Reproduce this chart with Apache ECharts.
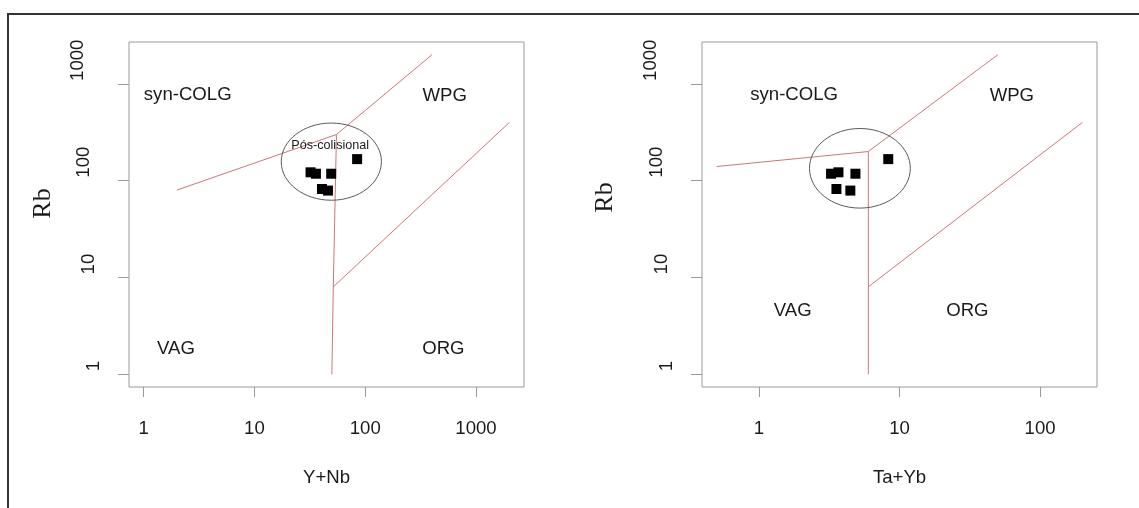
<!DOCTYPE html>
<html><head><meta charset="utf-8">
<script src="https://cdn.jsdelivr.net/npm/echarts@6/dist/echarts.min.js"></script>
<style>html,body{margin:0;padding:0;background:#fff}#c{width:1139px;height:508px}</style>
</head><body><div id="c"></div>
<script>
// ---- data ----
const yTickValues = [1, 10, 100, 1000];
const xTickValuesLeft = [1, 10, 100, 1000];
const xTickValuesRight = [1, 10, 100];
const sampleRb = [122, 118, 118, 167, 82, 79];
const sampleYNb = [32.1, 35.9, 49.3, 84.5, 40.7, 46.1];
const sampleTaYb = [3.68, 3.26, 4.86, 8.32, 3.56, 4.47];
const leftSynColgBoundary = [[2, 80], [55, 300], [400, 2000]];
const leftVagBoundary = [[55, 300], [51.5, 8], [50, 1]];
const leftOrgBoundary = [[51.5, 8], [2000, 400]];
const rightSynColgBoundary = [[0.5, 140], [6, 200], [50, 2000]];
const rightVagBoundary = [[6, 200], [6, 8], [6, 1]];
const rightOrgBoundary = [[6, 8], [200, 400]];
const leftFieldNames = ['syn-COLG', 'WPG', 'VAG', 'ORG', 'Pós-colisional'];
const leftFieldX = [2.5, 521, 1.96, 507, 48.3];
const leftFieldY = [769, 751, 1.82, 1.82, 233];
const rightFieldNames = ['syn-COLG', 'WPG', 'VAG', 'ORG'];
const rightFieldX = [1.78, 63, 1.74, 30.4];
const rightFieldY = [778, 748, 4.53, 4.53];
// ellipse bounds: [xMin, xMax, yMin, yMax]
const leftEllipse = [17.46, 140, 62.8, 394];
const rightEllipse = [2.29, 11.94, 52.1, 346];

// ---- styles ----
const SANS = '"Liberation Sans", Arial, sans-serif';
const TXT = '#1a1a1a';
const AXC = '#9a9a9a';
const RED = '#cc7777';

const yLabelShift = {1: 0, 2: 5, 3: 10, 4: 15.5};
const yRich = {};
Object.keys(yLabelShift).forEach(k => {
  yRich['d' + k] = {fontFamily: SANS, fontSize: 18.6, color: TXT, padding: [0, 0, 2 * yLabelShift[k], 3]};
});

function xAxisCfg(idx, min, max, ticks, name) {
  return {
    type: 'log', logBase: 10, gridIndex: idx, min: min, max: max,
    name: name, nameLocation: 'middle', nameGap: 81,
    nameTextStyle: {fontFamily: SANS, fontSize: 18.6, color: TXT},
    axisLine: {show: false},
    axisTick: {show: true, length: 10, lineStyle: {color: AXC, width: 1}, customValues: ticks},
    axisLabel: {show: true, margin: 32, fontFamily: SANS, fontSize: 18.6, color: TXT, customValues: ticks,
      formatter: v => String(Math.round(v))},
    splitLine: {show: false}, minorTick: {show: false}
  };
}
function yAxisCfg(idx, gap, lift) {
  return {
    type: 'log', logBase: 10, gridIndex: idx, min: 0.738, max: 2710,
    name: 'Rb', nameLocation: 'middle', nameGap: gap,
    nameTextStyle: {fontFamily: '"Liberation Serif", "Times New Roman", serif', fontSize: 26, color: TXT, padding: [0, 0, 0, lift]},
    axisLine: {show: false},
    axisTick: {show: true, length: 11, lineStyle: {color: AXC, width: 1}, customValues: yTickValues},
    axisLabel: {show: true, margin: 35.5, rotate: 90, align: 'left', verticalAlign: 'middle',
      customValues: yTickValues,
      formatter: v => { const s = String(Math.round(v)); return '{d' + s.length + '|' + s + '}'; },
      rich: yRich},
    splitLine: {show: false}, minorTick: {show: false}
  };
}
function lineSeries(idx, data) {
  return {type: 'line', xAxisIndex: idx, yAxisIndex: idx, data: data, symbol: 'none', silent: true,
    lineStyle: {color: RED, width: 1}, z: 3};
}
function ellipseSeries(idx, b) {
  return {type: 'custom', xAxisIndex: idx, yAxisIndex: idx, silent: true, z: 4, data: [b],
    renderItem: (p, api) => {
      const a = api.coord([api.value(0), api.value(2)]);
      const c = api.coord([api.value(1), api.value(3)]);
      return {type: 'ellipse', shape: {cx: (a[0] + c[0]) / 2, cy: (a[1] + c[1]) / 2,
        rx: Math.abs(c[0] - a[0]) / 2, ry: Math.abs(c[1] - a[1]) / 2},
        style: {fill: 'none', stroke: '#5a5a5a', lineWidth: 1}};
    }};
}
function textSeries(idx, names, xs, ys) {
  return {type: 'custom', xAxisIndex: idx, yAxisIndex: idx, silent: true, z: 5,
    data: xs.map((x, i) => [x, ys[i]]),
    renderItem: (p, api) => {
      const pt = api.coord([api.value(0), api.value(1)]);
      const name = names[p.dataIndex];
      const fs = name === 'Pós-colisional' ? 12.6 : 18.6;
      return {type: 'text', x: pt[0], y: pt[1],
        style: {text: name, fill: TXT, fontFamily: SANS, fontSize: fs, align: 'center', verticalAlign: 'middle'}};
    }};
}
function pointSeries(idx, xs) {
  return {type: 'scatter', xAxisIndex: idx, yAxisIndex: idx, data: xs.map((x, i) => [x, sampleRb[i]]),
    symbol: 'rect', symbolSize: 10, itemStyle: {color: '#000', opacity: 1}, z: 6, silent: true};
}

const chart = echarts.init(document.getElementById('c'), null, {renderer: 'canvas'});
chart.setOption({
  animation: false,
  backgroundColor: '#fff',
  graphic: [{type: 'rect', shape: {x: 8, y: 14, width: 1200, height: 600},
    style: {fill: 'none', stroke: '#333', lineWidth: 2}, silent: true, z: -1}],
  grid: [
    {left: 129, top: 42, width: 395, height: 345, show: true, borderColor: AXC, borderWidth: 1, backgroundColor: 'transparent'},
    {left: 702, top: 42, width: 395, height: 345, show: true, borderColor: AXC, borderWidth: 1, backgroundColor: 'transparent'}
  ],
  xAxis: [
    xAxisCfg(0, 0.738, 2710, xTickValuesLeft, 'Y+Nb'),
    xAxisCfg(1, 0.3936, 254.2, xTickValuesRight, 'Ta+Yb')
  ],
  yAxis: [yAxisCfg(0, 73, 22), yAxisCfg(1, 84, 34)],
  series: [
    lineSeries(0, leftSynColgBoundary), lineSeries(0, leftVagBoundary), lineSeries(0, leftOrgBoundary),
    lineSeries(1, rightSynColgBoundary), lineSeries(1, rightVagBoundary), lineSeries(1, rightOrgBoundary),
    ellipseSeries(0, leftEllipse), ellipseSeries(1, rightEllipse),
    textSeries(0, leftFieldNames, leftFieldX, leftFieldY),
    textSeries(1, rightFieldNames, rightFieldX, rightFieldY),
    pointSeries(0, sampleYNb), pointSeries(1, sampleTaYb)
  ]
});
</script></body></html>
